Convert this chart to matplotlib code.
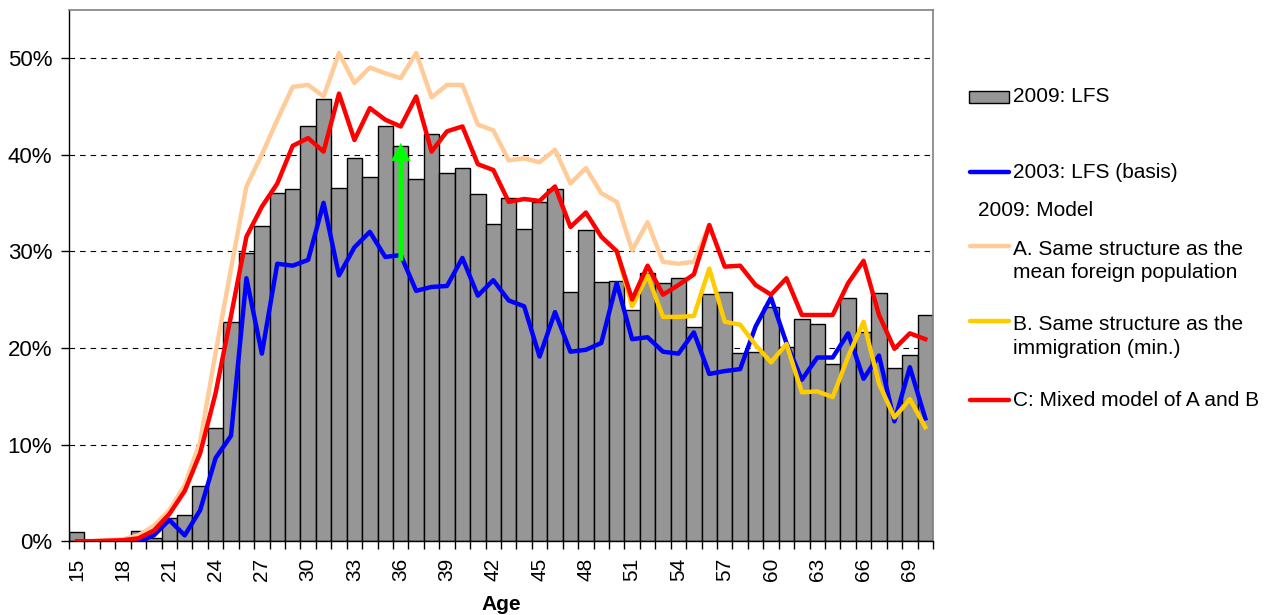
import numpy as np
import matplotlib
matplotlib.use("Agg")
import matplotlib.pyplot as plt
from matplotlib.ticker import PercentFormatter
from matplotlib.lines import Line2D
from matplotlib.patches import Rectangle

plt.rcParams['font.family'] = ['Liberation Sans', 'DejaVu Sans']

ages = np.arange(15, 71)
age_labels = list(range(15, 71, 3))

# 2009: LFS (bars), ages 15-70, in %
lfs_2009 = [0.9, 0.0, 0.0, 0.0, 1.1, 0.3, 2.4, 2.7, 5.7, 11.7,
            22.7, 29.8, 32.6, 36.0, 36.4, 43.0, 45.7, 36.5, 39.6, 37.7,
            42.9, 40.9, 37.5, 42.1, 38.1, 38.6, 35.9, 32.8, 35.5, 32.3,
            35.1, 36.4, 25.8, 32.2, 26.8, 26.9, 23.9, 27.7, 26.7, 27.2,
            22.2, 25.6, 25.8, 19.5, 19.6, 24.2, 20.1, 23.0, 22.5, 18.3,
            25.2, 21.6, 25.7, 17.9, 19.3, 23.4]

# 2003: LFS (basis), ages 15-70
nan = np.nan
lfs_2003 = [nan, nan, nan, nan, 0.0, 0.6, 2.2, 0.6, 3.2, 8.6,
            10.9, 27.2, 19.4, 28.7, 28.5, 29.1, 35.0, 27.5, 30.4, 32.0,
            29.4, 29.6, 25.9, 26.3, 26.4, 29.3, 25.4, 27.0, 24.9, 24.3,
            19.1, 23.7, 19.6, 19.8, 20.5, 26.7, 20.9, 21.1, 19.6, 19.4,
            21.6, 17.3, 17.6, 17.8, 22.2, 25.2, 20.5, 16.7, 19.0, 19.0,
            21.5, 16.8, 19.2, 12.4, 18.0, 12.7]

# A. Same structure as the mean foreign population, ages 15-56
model_a = [0.0, 0.0, 0.1, 0.2, 0.6, 1.6, 3.2, 5.8, 10.3, 19.5,
           28.2, 36.7, 40.0, 43.6, 47.0, 47.2, 46.0, 50.5, 47.4, 49.0,
           48.4, 47.9, 50.5, 45.9, 47.2, 47.2, 43.1, 42.5, 39.4, 39.6,
           39.2, 40.5, 37.0, 38.6, 36.0, 35.1, 30.1, 33.0, 28.9, 28.7,
           28.9, 32.7]

# B. Same structure as the immigration (min.), ages 50-70
model_b = [30.0, 24.3, 27.5, 23.2, 23.2, 23.3, 28.2, 22.7, 22.4, 20.3,
           18.5, 20.4, 15.4, 15.5, 14.9, 19.1, 22.7, 16.3, 12.8, 14.7,
           11.8]

# C: Mixed model of A and B, ages 15-70
model_c = [0.0, 0.0, 0.05, 0.1, 0.3, 1.1, 2.8, 5.2, 9.1, 15.3,
           23.3, 31.5, 34.6, 37.0, 40.9, 41.7, 40.3, 46.3, 41.5, 44.8,
           43.6, 42.9, 46.0, 40.3, 42.4, 42.9, 39.0, 38.4, 35.1, 35.4,
           35.2, 36.7, 32.5, 34.0, 31.5, 30.0, 25.0, 28.5, 25.5, 26.5,
           27.6, 32.7, 28.4, 28.5, 26.5, 25.5, 27.2, 23.4, 23.4, 23.4,
           26.7, 29.0, 23.4, 19.9, 21.5, 20.9]

arrow_age = 36
arrow_from = 29.0
arrow_to = 41.2

W, H = 1274, 615
fig = plt.figure(figsize=(W / 100, H / 100), dpi=100)
ax = fig.add_axes([69 / W, 1 - 541.2 / H, (933 - 69) / W, (541.2 - 9.5) / H])

ax.bar(ages, lfs_2009, width=1.0, color='#969696', edgecolor='black', linewidth=1.0, zorder=2)

lw = 3.2
ax.plot(ages, lfs_2003, color='#0000FF', lw=lw, zorder=3)
ax.plot(ages[:len(model_a)], model_a, color='#FFCC99', lw=lw, zorder=4)
ax.plot(ages[-len(model_b):], model_b, color='#FFCC00', lw=lw, zorder=5)
ax.plot(ages, model_c, color='#FF0000', lw=lw, zorder=6)

ax.annotate('', xy=(arrow_age, arrow_to), xytext=(arrow_age, arrow_from),
            arrowprops=dict(facecolor='#00FF00', edgecolor='none', width=3.3,
                            headwidth=14, headlength=13, shrink=0),
            zorder=7)

ax.set_xlim(14.5, 70.5)
ax.set_ylim(0, 55)
ax.set_yticks([0, 10, 20, 30, 40, 50])
ax.yaxis.set_major_formatter(PercentFormatter(100, decimals=0))
ax.yaxis.grid(True, color='black', linestyle=(0, (5, 4.5)), linewidth=0.8, zorder=0)
ax.set_axisbelow(True)

ax.set_xticks(age_labels)
ax.set_xticklabels([str(a) for a in age_labels], rotation=90)
ax.set_xticks(np.arange(14.5, 71, 1), minor=True)
ax.tick_params(axis='x', which='major', length=0, pad=12, labelsize=15)
ax.tick_params(axis='x', which='minor', length=6, width=1, direction='out')
ax.tick_params(axis='y', length=6, width=1, direction='out', pad=6, labelsize=16)
ax.set_xlabel('Age', fontsize=15, fontweight='bold', labelpad=10)

for side in ['top', 'right']:
    ax.spines[side].set_color('#808080')
    ax.spines[side].set_linewidth(1.2)
for side in ['left', 'bottom']:
    ax.spines[side].set_color('black')
    ax.spines[side].set_linewidth(1.0)


def fx(x):
    return x / W


def fy(y):
    return 1 - y / H


# legend drawn in figure pixels
fig.add_artist(Rectangle((fx(969), fy(103)), fx(1009) - fx(969), (103 - 91) / H,
                         facecolor='#969696', edgecolor='black', linewidth=1.0,
                         transform=fig.transFigure))
fig.text(fx(1013), fy(97), '2009: LFS', fontsize=15, va='center', ha='left')

legend_lines = [
    ('#0000FF', 172, 172, '2003: LFS (basis)', 'center'),
    ('#FFCC99', 246, 240, 'A. Same structure as the\nmean foreign population', 'top'),
    ('#FFCC00', 321, 315, 'B. Same structure as the\nimmigration (min.)', 'top'),
    ('#FF0000', 400, 400, 'C: Mixed model of A and B', 'center'),
]
for color, ly, ty, label, va in legend_lines:
    fig.add_artist(Line2D([fx(970), fx(1009)], [fy(ly), fy(ly)], color=color,
                          lw=3.2, solid_capstyle='round', transform=fig.transFigure))
    fig.text(fx(1013), fy(ty), label, fontsize=15, va=va, ha='left', linespacing=1.3)

fig.text(fx(978), fy(210), '2009: Model', fontsize=15, va='center', ha='left')

fig.savefig('out.png', dpi=100)
